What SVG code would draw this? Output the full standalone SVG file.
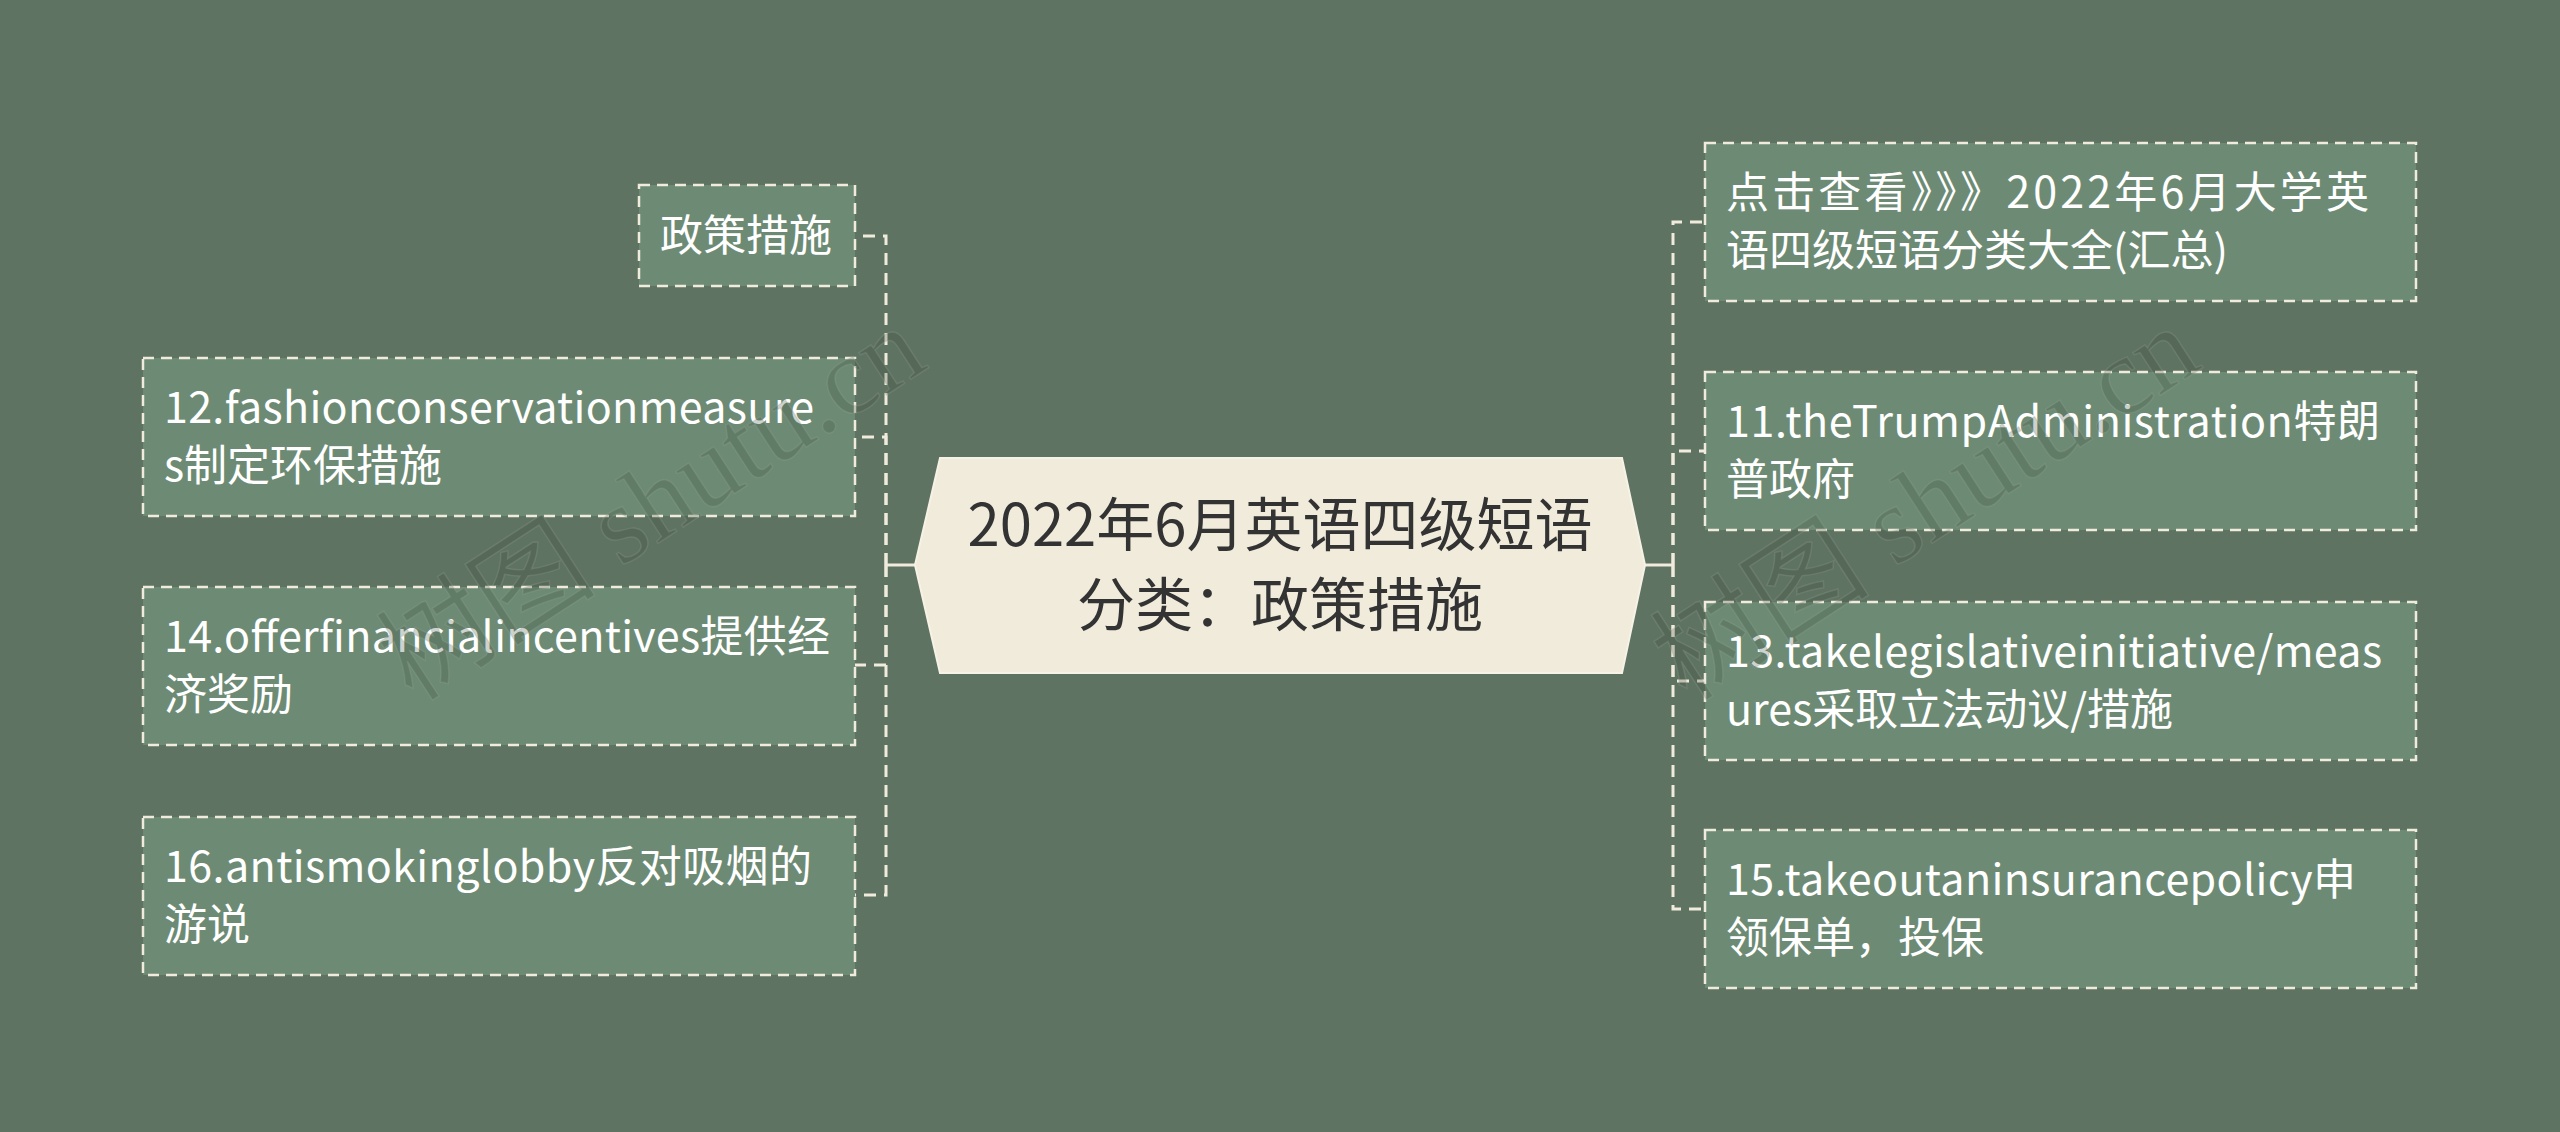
<svg xmlns="http://www.w3.org/2000/svg" width="2560" height="1132" viewBox="0 0 2560 1132">
<style>
.bg{fill:#5f7362}
.box{fill:#6d8b74;stroke:#f0ebdc;stroke-width:2.5;stroke-dasharray:11 7}
.t{font-family:"Noto Sans CJK SC","Noto Sans",sans-serif;font-size:43px;fill:#ffffff}
.ct{font-family:"Noto Sans CJK SC","Noto Sans",sans-serif;font-size:58px;fill:#333333;text-anchor:middle}
.c{fill:none;stroke:#f0ebdc;stroke-width:3;stroke-dasharray:12 8}
.cs{fill:none;stroke:#f0ebdc;stroke-width:3}
.wm{font-family:"Liberation Serif","Noto Sans CJK SC",serif;font-size:110px;fill:#3a4a3c;fill-opacity:0.25;stroke:#9aa89b;stroke-opacity:0.25;stroke-width:1.5}
</style>
<rect class="bg" x="0" y="0" width="2560" height="1132"/>
<g id="connectors">
<path class="cs" d="M915,565 H886"/>
<path class="c" d="M886,565 V236 H855"/>
<path class="c" d="M886,565 V437 H855"/>
<path class="c" d="M886,565 V665 H855"/>
<path class="c" d="M886,565 V895 H855"/>
<path class="cs" d="M1645,565 H1673"/>
<path class="c" d="M1673,565 V222 H1705"/>
<path class="c" d="M1673,565 V451 H1705"/>
<path class="c" d="M1673,565 V681 H1705"/>
<path class="c" d="M1673,565 V909 H1705"/>
</g>
<g id="center">
<polygon points="940,458 1622,458 1645,565 1622,673 940,673 915,565" fill="#f0ebdb" stroke="#f6f2e6" stroke-width="2"/>
<text class="ct" x="1280" y="546">2022年6月英语四级短语</text>
<text class="ct" x="1280" y="626">分类：政策措施</text>
</g>
<g id="n-left-0">
<rect class="box" x="639" y="185" width="216" height="101"/>
<text class="t" x="660" y="251">政策措施</text>
</g>
<g id="n-left-1">
<rect class="box" x="143" y="358" width="712" height="158"/>
<text class="t" x="164" y="423" textLength="650">12.fashionconservationmeasure</text>
<text class="t" x="164" y="481">s制定环保措施</text>
</g>
<g id="n-left-2">
<rect class="box" x="143" y="587" width="712" height="158"/>
<text class="t" x="164" y="652" textLength="666">14.offerfinancialincentives提供经</text>
<text class="t" x="164" y="710">济奖励</text>
</g>
<g id="n-left-3">
<rect class="box" x="143" y="817" width="712" height="158"/>
<text class="t" x="164" y="882" textLength="648">16.antismokinglobby反对吸烟的</text>
<text class="t" x="164" y="940">游说</text>
</g>
<g id="n-right-0">
<rect class="box" x="1705" y="143" width="711" height="158"/>
<text class="t" x="1726" y="208" textLength="643">点击查看》》》2022年6月大学英</text>
<text class="t" x="1726" y="266">语四级短语分类大全(汇总)</text>
</g>
<g id="n-right-1">
<rect class="box" x="1705" y="372" width="711" height="158"/>
<text class="t" x="1726" y="437" textLength="654">11.theTrumpAdministration特朗</text>
<text class="t" x="1726" y="495">普政府</text>
</g>
<g id="n-right-2">
<rect class="box" x="1705" y="602" width="711" height="158"/>
<text class="t" x="1726" y="667" textLength="656">13.takelegislativeinitiative/meas</text>
<text class="t" x="1726" y="725">ures采取立法动议/措施</text>
</g>
<g id="n-right-3">
<rect class="box" x="1705" y="830" width="711" height="158"/>
<text class="t" x="1726" y="895" textLength="630">15.takeoutaninsurancepolicy申</text>
<text class="t" x="1726" y="953">领保单，投保</text>
</g>
<g id="watermark">
<text class="wm" x="653" y="540" text-anchor="middle" transform="rotate(-33 653 506)">树图 shutu.cn</text>
<text class="wm" x="1927" y="540" text-anchor="middle" transform="rotate(-33 1927 506)">树图 shutu.cn</text>
</g>
</svg>
